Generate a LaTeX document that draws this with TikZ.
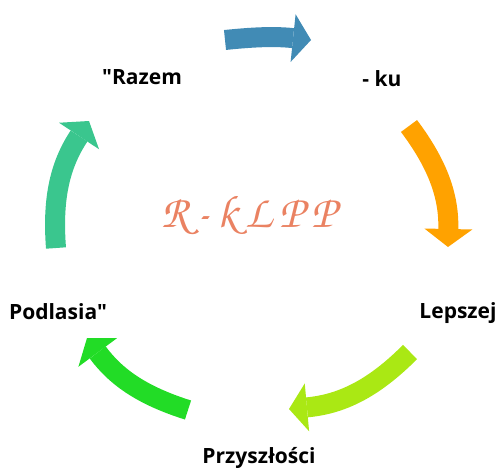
\documentclass[tikz,border=0pt]{standalone}
\usepackage[T1,TU]{fontenc}
\usepackage{fontspec}
\setmainfont{Open Sans}[Ligatures=TeXOff]
\usetikzlibrary{arrows.meta}

\definecolor{arrblue}{RGB}{65,139,181}
\definecolor{arrorange}{RGB}{255,162,0}
\definecolor{arrlime}{RGB}{170,232,20}
\definecolor{arrgreen}{RGB}{34,220,38}
\definecolor{arrteal}{RGB}{58,198,142}
\definecolor{logosalmon}{RGB}{234,130,98}

\begin{document}
\begin{tikzpicture}[%
    x=1pt, y=1pt,
    word/.style={
      anchor=base,
      font=\fontsize{21}{25}\selectfont\bfseries,
      text=black,
      inner sep=0pt
    },
    logo/.style={
      font=\fontsize{46}{50}\usefont{T1}{pzc}{mb}{it},
      text=logosalmon,
      inner sep=0pt
    },
    cycarrow/.style={
      line width=20pt,
      -{Triangle[length=18pt,width=48pt,line width=0pt]}
    }
  ]
    \useasboundingbox (0,0) rectangle (500,467);

    % the five words round the cycle
    \draw (142,382) node[word] (razem) {"Razem};
    \draw (382,381) node[word] (ku) {- ku};
    \draw (458,149) node[word] (lepszej) {Lepszej};
    \draw (259,4) node[word] (przyszlosci) {Przyszłości};
    \draw (58,148) node[word] (podlasia) {Podlasia"};

    \draw (249,252) node[logo] (rklpp) {R\,-\,k\,L\,P\,P};

    % ends of the curved arrows
    \coordinate (blueTail) at (225,427);
    \coordinate (blueTip) at (311,427);
    \coordinate (orangeTail) at (409,341);
    \coordinate (orangeTip) at (448,220);
    \coordinate (limeTail) at (410,115);
    \coordinate (limeTip) at (289,58);
    \coordinate (greenTail) at (188,57);
    \coordinate (greenTip) at (87,129);
    \coordinate (tealTail) at (56,219);
    \coordinate (tealTip) at (89,346);

    % curved arrows between the words
    \draw[cycarrow, arrblue] (blueTail) to[bend left=6] (blueTip);
    \draw[cycarrow, arrorange] (orangeTail) to[bend left=19] (orangeTip);
    \draw[cycarrow, arrlime] (limeTail) to[bend left=20] (limeTip);
    \draw[cycarrow, arrgreen] (greenTail) to[bend left=18] (greenTip);
    \draw[cycarrow, arrteal] (tealTail) to[bend left=19] (tealTip);
\end{tikzpicture}
\end{document}
